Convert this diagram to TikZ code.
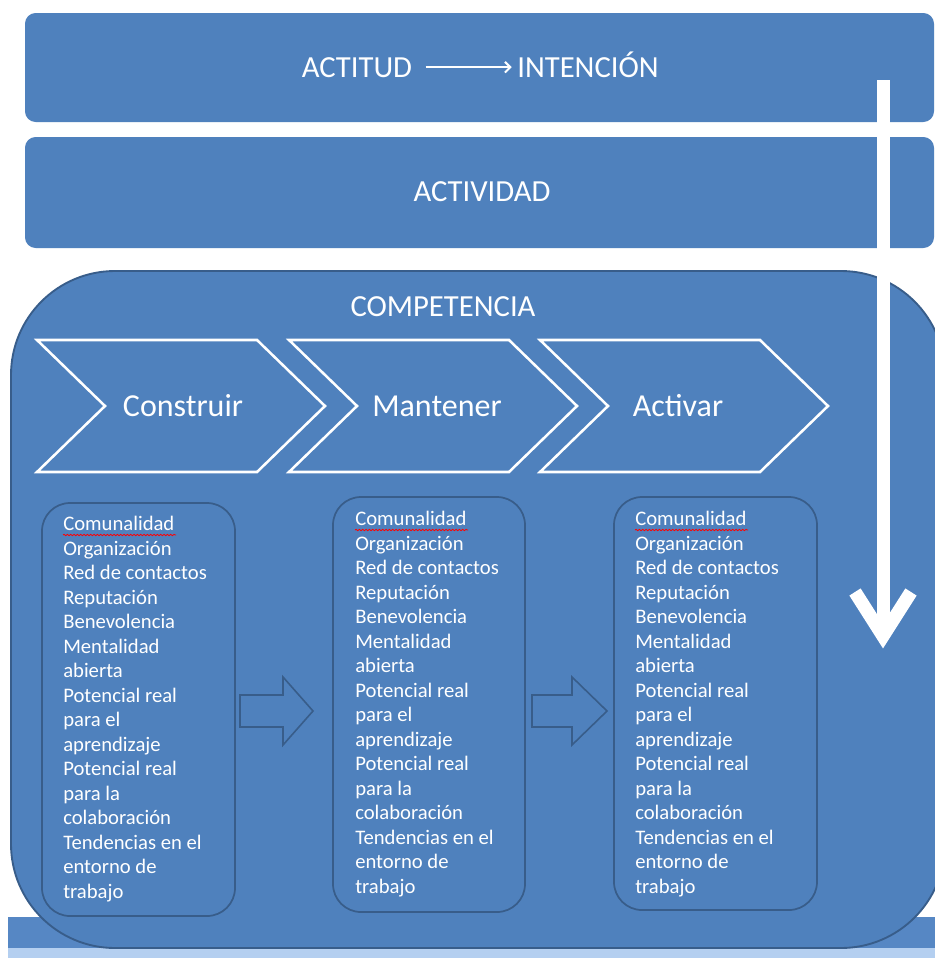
\documentclass[tikz,border=0pt]{standalone}
\usepackage{fontspec}
\setmainfont{Carlito}
\usetikzlibrary{calc,decorations.pathmorphing,arrows.meta}
\definecolor{bl}{HTML}{4F81BD}
\definecolor{bdr}{HTML}{385D8A}
\definecolor{bandc}{HTML}{5687C4}
\definecolor{stripc}{HTML}{B4CFF0}
\begin{document}
\begin{tikzpicture}[x=0.75pt,y=-0.75pt,
  hdr/.style={text=white, font=\fontsize{23pt}{27pt}\selectfont, inner sep=0},
  chevlbl/.style={text=white, font=\fontsize{24pt}{28pt}\selectfont, inner sep=0},
  lst/.style={text=white, font=\fontsize{15.5pt}{18.4pt}\selectfont, align=left, anchor=base west, inner sep=0},
  lbox/.style={fill=bl, draw=bdr, line width=1.3pt, rounded corners=21pt},
  chev/.style={fill=bl, draw=white, line width=1.9pt, line join=miter},
  barrow/.style={fill=bl, draw=bdr, line width=1.2pt, line join=miter},
  squig/.style={red, line width=0.6pt, decorate, decoration={snake, amplitude=0.5pt, segment length=2.5pt}},
]
\useasboundingbox (0,0) rectangle (935,958);
\clip (0,0) rectangle (935,958);
\fill[white] (0,0) rectangle (935,958);
% bottom band
\fill[bandc] (8,917) rectangle (940,948);
\fill[stripc] (8,948) rectangle (940,958);
% competencia container
\draw[fill=bl, draw=bdr, line width=1.4pt, rounded corners=78pt] (11,271) rectangle (945,948);
% top bars
\fill[bl, rounded corners=8pt] (25,13) rectangle (934,122);
\fill[bl, rounded corners=8pt] (25,137) rectangle (934,248);
% header texts
\node[hdr, anchor=base] (actitud) at (357,77) {ACTITUD};
\node[hdr, anchor=base] (intencion) at (588,77) {INTENCIÓN};
\draw[white, line width=1.5pt, -{Straight Barb[length=4pt,width=8pt]}, shorten <=10pt, shorten >=4pt]
  (actitud.east) -- (actitud.east -| intencion.west);
\node[hdr] (actividad) at (482,192) {ACTIVIDAD};
\node[hdr] (competencia) at (443,307) {COMPETENCIA};
% chevrons
\draw[chev] (37,340) -- (257,340) -- (325,406) -- (257,472) -- (37,472) -- (105,406) -- cycle;
\draw[chev] (289,340) -- (509,340) -- (577,406) -- (509,472) -- (289,472) -- (357,406) -- cycle;
\draw[chev] (540,340) -- (760,340) -- (828,406) -- (760,472) -- (540,472) -- (608,406) -- cycle;
\node[chevlbl] (construir) at (183,406) {Construir};
\node[chevlbl] (mantener) at (437,406) {Mantener};
\node[chevlbl] (activar) at (678,406) {Activar};
% list boxes
\draw[lbox] (42,503) rectangle (235,916);
\draw[lbox] (333,497) rectangle (525,912);
\draw[lbox] (614,497) rectangle (817,910);
% (anchor base west = baseline of the last line)
\node[lst] (t1) at (63,898.5) {Comunalidad\\Organización\\Red de contactos\\Reputación\\Benevolencia\\Mentalidad\\abierta\\Potencial real\\para el\\aprendizaje\\Potencial real\\para la\\colaboración\\Tendencias en el\\entorno de\\trabajo};
\node[lst] (t2) at (355,893.5) {Comunalidad\\Organización\\Red de contactos\\Reputación\\Benevolencia\\Mentalidad\\abierta\\Potencial real\\para el\\aprendizaje\\Potencial real\\para la\\colaboración\\Tendencias en el\\entorno de\\trabajo};
\node[lst] (t3) at (635,893.5) {Comunalidad\\Organización\\Red de contactos\\Reputación\\Benevolencia\\Mentalidad\\abierta\\Potencial real\\para el\\aprendizaje\\Potencial real\\para la\\colaboración\\Tendencias en el\\entorno de\\trabajo};
\foreach \t in {t1,t2,t3}{
  \draw[squig] ($(\t.base west)+(0,-363.5)$) -- ($(\t.base west)+(113,-363.5)$);
}
% block arrows
\draw[barrow] (240,695) -- (283,695) -- (283,677) -- (313,711) -- (283,745) -- (283,727) -- (240,727) -- cycle;
\draw[barrow] (532,695) -- (572,695) -- (572,677) -- (607,711) -- (572,745) -- (572,727) -- (532,727) -- cycle;
% white down arrow
\coordinate (wtop) at (883,80);
\coordinate (wtip) at (883,636);
\draw[white, line width=9.75pt] (wtop) -- (wtip);
\draw[white, line width=10pt, line join=miter] ($(wtip)+(-28,-44)$) -- (wtip) -- ($(wtip)+(28,-44)$);
\end{tikzpicture}
\end{document}
